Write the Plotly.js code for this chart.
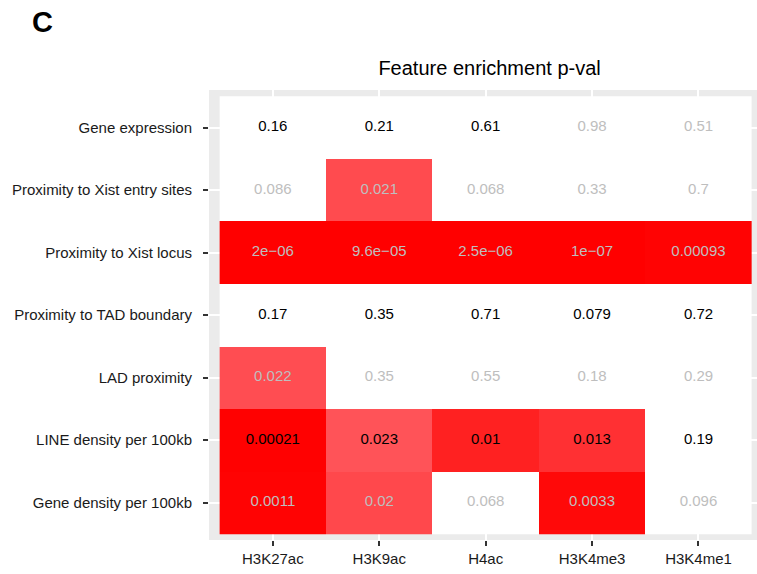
<!DOCTYPE html>
<html>
<head>
<meta charset="utf-8">
<script src="https://cdn.plot.ly/plotly-3.0.1.min.js"></script>
<style>html,body{margin:0;padding:0;overflow:hidden;background:#fff;}</style>
</head>
<body>
<div id="chart" style="width:757px;height:574px;"></div>
<script>
// Columns (histone marks) and rows (features), top to bottom
const marks = ["H3K27ac", "H3K9ac", "H4ac", "H3K4me3", "H3K4me1"];
const features = [
  "Gene expression",
  "Proximity to Xist entry sites",
  "Proximity to Xist locus",
  "Proximity to TAD boundary",
  "LAD proximity",
  "LINE density per 100kb",
  "Gene density per 100kb"
];
// p-values, one row per feature (columns follow marks)
const pGeneExpression = [0.16, 0.21, 0.61, 0.98, 0.51];
const pXistEntry      = [0.086, 0.021, 0.068, 0.33, 0.7];
const pXistLocus      = [2e-06, 9.6e-05, 2.5e-06, 1e-07, 0.00093];
const pTADBoundary    = [0.17, 0.35, 0.71, 0.079, 0.72];
const pLAD            = [0.022, 0.35, 0.55, 0.18, 0.29];
const pLINE           = [0.00021, 0.023, 0.01, 0.013, 0.19];
const pGeneDensity    = [0.0011, 0.02, 0.068, 0.0033, 0.096];
// label emphasis per row (1 = black text, 0 = grey text)
const emphGeneExpression = [1, 1, 1, 0, 0];
const emphXistEntry      = [0, 0, 0, 0, 0];
const emphXistLocus      = [0, 0, 0, 0, 0];
const emphTADBoundary    = [1, 1, 1, 1, 1];
const emphLAD            = [0, 0, 0, 0, 0];
const emphLINE           = [1, 1, 1, 1, 1];
const emphGeneDensity    = [0, 0, 0, 0, 0];

const pRows = [pGeneExpression, pXistEntry, pXistLocus, pTADBoundary, pLAD, pLINE, pGeneDensity];
const emphRows = [emphGeneExpression, emphXistEntry, emphXistLocus, emphTADBoundary, emphLAD, emphLINE, emphGeneDensity];

function fmt(p) {
  if (p < 1e-4) {
    let s = p.toExponential();
    let [m, e] = s.split("e");
    let sign = e[0] === "-" ? "\u2212" : "+";
    let d = e.replace(/[-+]/, "");
    if (d.length < 2) d = "0" + d;
    return m + "e" + sign + d;
  }
  return String(p);
}

const xIdx = marks.map((_, i) => i);
const yIdx = features.map((_, i) => i);

const tx = [], ty = [], tt = [], tc = [];
pRows.forEach((row, r) => row.forEach((p, c) => {
  tx.push(c); ty.push(r); tt.push(fmt(p));
  tc.push(emphRows[r][c] ? "#000000" : "#BEBEBE");
}));

const font = "Liberation Sans, Arial, Helvetica, sans-serif";

const data = [
  {
    type: "heatmap",
    x: xIdx, y: yIdx, z: pRows,
    zmin: 0, zmax: 0.05,
    colorscale: [
      [0, "#FF0000"], [0.066, "#FF0909"], [0.2, "#FF2121"], [0.26, "#FF3033"],
      [0.4, "#FF484C"], [0.44, "#FF4D52"], [0.46, "#FF5358"],
      [0.999, "#FF9A9C"], [1, "#FFFFFF"]
    ],
    showscale: false,
    hoverinfo: "skip"
  },
  {
    type: "scatter", mode: "text",
    x: tx, y: ty, text: tt,
    textposition: "middle center",
    textfont: {family: font, size: 15, color: tc},
    hoverinfo: "skip", showlegend: false
  }
];

const layout = {
  width: 757, height: 574,
  margin: {l: 209, r: 0, t: 90, b: 34, pad: 0},
  paper_bgcolor: "#FFFFFF",
  plot_bgcolor: "#EBEBEB",
  showlegend: false,
  font: {family: font, color: "#1a1a1a"},
  title: {
    text: "Feature enrichment p-val",
    font: {family: font, size: 20, color: "#000000"},
    xref: "paper", x: 0.512, xanchor: "center",
    yref: "container", y: 1 - 68 / 574, yanchor: "middle"
  },
  xaxis: {
    range: [-0.6, 4.55],
    tickmode: "array", tickvals: xIdx, ticktext: marks,
    ticks: "outside", ticklen: 5, tickwidth: 2, tickcolor: "#333333",
    ticklabelstandoff: 0,
    tickfont: {family: font, size: 15, color: "#1a1a1a"},
    showgrid: true, gridcolor: "#FFFFFF", gridwidth: 2,
    zeroline: false, showline: false, fixedrange: true
  },
  yaxis: {
    range: [6.6, -0.6],
    tickmode: "array", tickvals: yIdx, ticktext: features,
    ticks: "outside", ticklen: 5, tickwidth: 2, tickcolor: "#333333",
    ticklabelstandoff: 8,
    tickfont: {family: font, size: 15, color: "#1a1a1a"},
    showgrid: true, gridcolor: "#FFFFFF", gridwidth: 2,
    zeroline: false, showline: false, fixedrange: true
  },
  annotations: [{
    text: "<b>C</b>", showarrow: false,
    xref: "paper", yref: "paper",
    x: (42 - 209) / 548, y: (540 - 22) / 450,
    xanchor: "center", yanchor: "middle",
    font: {family: font, size: 29, color: "#000000"}
  }]
};

Plotly.newPlot("chart", data, layout, {staticPlot: true, displayModeBar: false});
</script>
</body>
</html>
